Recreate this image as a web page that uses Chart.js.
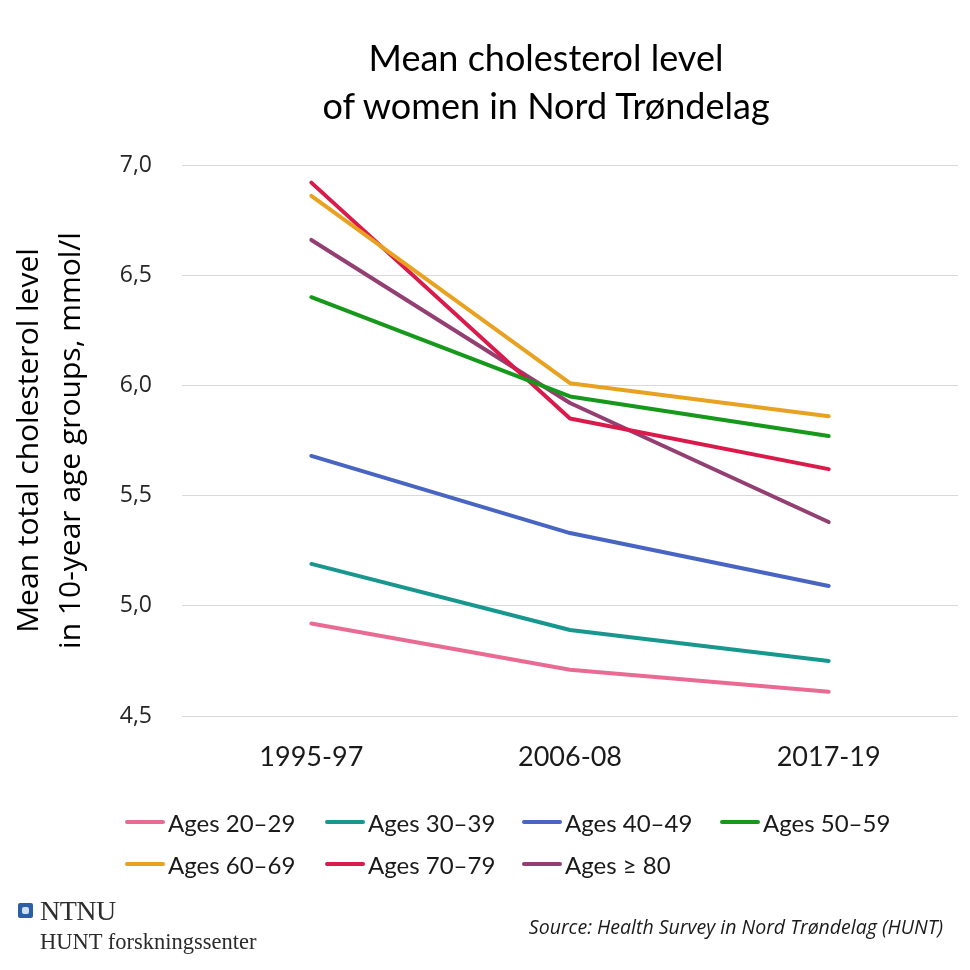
<!DOCTYPE html>
<html>
<head>
<meta charset="utf-8">
<script src="https://cdn.jsdelivr.net/npm/chart.js@4.4.1/dist/chart.umd.min.js"></script>
<style>
  html, body { margin: 0; padding: 0; background: #fff; }
  #wrap { position: relative; width: 970px; height: 970px; overflow: hidden; }
  #chart { position: absolute; left: 0; top: 0; }
  .title { position: absolute; left: 246px; top: 33px; width: 600px; text-align: center; white-space: nowrap;
           font-family: Lato, sans-serif; font-size: 36px; line-height: 48px; color: #000; }
  .legend { position: absolute; left: 125px; top: 806px; width: 800px; }
  .leg-item { position: absolute; display: flex; align-items: center; height: 32px;
              font-family: Lato, "Open Sans", sans-serif; font-size: 24px; color: #1a1a1a; white-space: nowrap; }
  .leg-line { width: 40px; height: 4px; margin-right: 3px; border-radius: 2px; }
  .logo { position: absolute; left: 18px; top: 896px; font-family: "Liberation Serif", "DejaVu Serif", serif; }
  .logo .mark { position: absolute; left: 0; top: 7px; width: 15px; height: 15px; background: #2c5fa3; border-radius: 2px; }
  .logo .mark:after { content: ""; position: absolute; left: 4px; top: 4px; width: 7px; height: 7px; background: #cfe0f5; border-radius: 2px; }
  .logo .ntnu { position: absolute; left: 22px; top: -1px; font-size: 28px; color: #2e2e2e; letter-spacing: -0.5px; }
  .logo .hunt { position: absolute; left: 22px; top: 33px; font-size: 22.5px; color: #2b2b2b; white-space: nowrap; }
  .source { position: absolute; right: 27px; top: 913px; font-family: "Open Sans", sans-serif; font-style: italic;
            font-size: 19.5px; color: #1a1a1a; white-space: nowrap; }
</style>
</head>
<body>
<div id="wrap">
  <canvas id="chart" width="970" height="970"></canvas>
  <div class="title"><div>Mean cholesterol level</div><div>of women in Nord Trøndelag</div></div>
  <div class="legend" id="legend"></div>
  <div class="logo"><div class="mark"></div><div class="ntnu">NTNU</div><div class="hunt">HUNT forskningssenter</div></div>
  <div class="source">Source: Health Survey in Nord Trøndelag (HUNT)</div>
</div>
<script>
// survey periods
var periods = ["1995-97", "2006-08", "2017-19"];

// mean total cholesterol, mmol/l
var ages20 = [4.92, 4.71, 4.61];
var ages30 = [5.19, 4.89, 4.75];
var ages40 = [5.68, 5.33, 5.09];
var ages50 = [6.40, 5.95, 5.77];
var ages60 = [6.86, 6.01, 5.86];
var ages70 = [6.92, 5.85, 5.62];
var ages80 = [6.66, 5.92, 5.38];

var groupNames = ["Ages 20\u201329", "Ages 30\u201339", "Ages 40\u201349", "Ages 50\u201359",
                  "Ages 60\u201369", "Ages 70\u201379", "Ages \u2265 80"];
var groupColors = ["#e96b93", "#17978d", "#4865c3", "#16991a", "#e8a21f", "#d91a4a", "#933f72"];
var groupData = [ages20, ages30, ages40, ages50, ages60, ages70, ages80];

var yTicks = [4.5, 5.0, 5.5, 6.0, 6.5, 7.0];

var datasets = groupData.map(function (d, i) {
    return {
        label: groupNames[i],
        data: d,
        borderColor: groupColors[i],
        backgroundColor: groupColors[i],
        borderWidth: 4,
        borderCapStyle: 'round',
        borderJoinStyle: 'round',
        pointRadius: 0,
        tension: 0
    };
});

var ctx = document.getElementById('chart').getContext('2d');
var chart = new Chart(ctx, {
    type: 'line',
    data: {labels: periods, datasets: datasets},
    options: {
        responsive: false,
        animation: false,
        layout: {padding: {left: 0, right: 12, top: 165, bottom: 180}},
        plugins: {
            legend: {display: false},
            tooltip: {enabled: false}
        },
        scales: {
            x: {
                offset: true,
                grid: {display: false, drawTicks: false},
                border: {display: false},
                ticks: {
                    padding: 25,
                    color: '#1a1a1a',
                    font: {family: 'Lato, sans-serif', size: 27}
                },
                afterFit: function (scale) { scale.height = 74; }
            },
            y: {
                min: 4.5,
                max: 7.0,
                afterBuildTicks: function (scale) {
                    scale.ticks = yTicks.map(function (v) { return {value: v}; });
                },
                grid: {color: '#d9d9d9', lineWidth: 1, drawTicks: false},
                border: {display: false},
                ticks: {
                    padding: 30,
                    color: '#262626',
                    font: {family: '"Open Sans", sans-serif', size: 23},
                    callback: function (v) { return v.toFixed(1).replace('.', ','); }
                },
                title: {
                    display: true,
                    text: ["Mean total cholesterol level", "in 10-year age groups, mmol/l"],
                    color: '#000',
                    font: {family: '"Open Sans", sans-serif', size: 30, lineHeight: 1.4},
                    padding: {top: 8, bottom: 0}
                },
                afterFit: function (scale) { scale.width = 182; }
            }
        }
    }
});

// legend in four columns, rows left aligned
var legend = document.getElementById('legend');
var colX = [0, 200, 397, 595];
groupNames.forEach(function (name, i) {
    var item = document.createElement('div');
    item.className = 'leg-item';
    item.style.left = colX[i % 4] + 'px';
    item.style.top = (Math.floor(i / 4) * 42) + 'px';
    item.innerHTML = '<div class="leg-line" style="background:' + groupColors[i] + '"></div><span>' + name + '</span>';
    legend.appendChild(item);
});
</script>
</body>
</html>
